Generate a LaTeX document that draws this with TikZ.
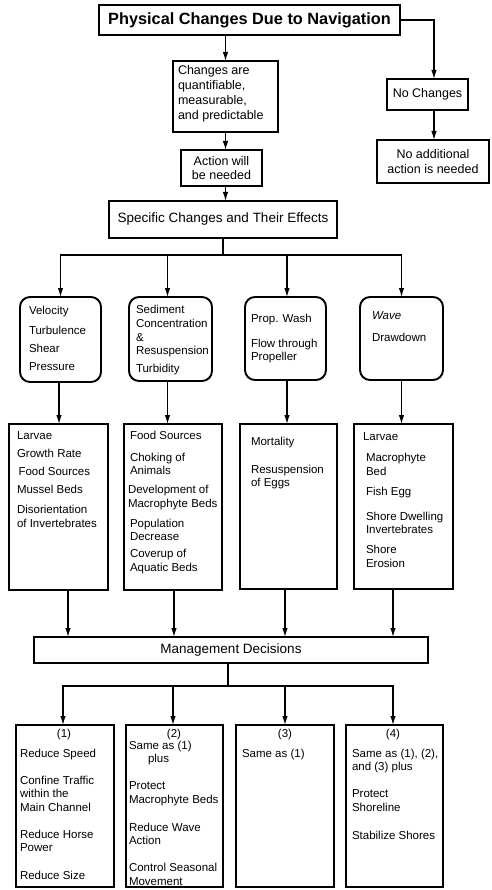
\documentclass[tikz,border=0pt]{standalone}
\usepackage{fontspec}
\setmainfont{Liberation Sans}
\usetikzlibrary{arrows.meta}
\begin{document}
\begin{tikzpicture}[x=1pt,y=-1pt,
  box/.style={draw, line width=1.6pt, inner sep=0pt, outer sep=0pt, anchor=north west},
  rbox/.style={box, rounded corners=10pt, line width=1.9pt},
  arr/.style={line width=1.2pt, -{Latex[length=9pt,width=5.5pt]}},
  ln/.style={line width=1.2pt},
  txt/.style={inner sep=0pt, outer sep=0pt, anchor=north west, align=left, font=\fontsize{11.5}{13.5}\selectfont},
  lbl/.style={inner sep=0pt, anchor=base, font=\fontsize{11.5}{13.5}\selectfont},
  mid/.style={font=\fontsize{12.5}{15}\selectfont},
  big/.style={font=\fontsize{13.5}{16}\selectfont}
]
\useasboundingbox (0,0) rectangle (491,890);

% top part
\node[box, minimum width=301pt, minimum height=30pt, font=\bfseries\fontsize{16.3}{19}\selectfont] (title) at (99,5) {Physical Changes Due to Navigation};
\node[box, minimum width=105pt, minimum height=71pt] (changes) at (173,61) {};
\node[txt, font=\fontsize{12.5}{15.3}\selectfont] (changestxt) at (178,65) {Changes are\\quantifiable,\\measurable,\\and predictable};
\node[box, mid, minimum width=81pt, minimum height=36pt, align=center, font=\fontsize{12.5}{14}\selectfont] (action) at (181,150) {Action will\\be needed};
\node[box, big, minimum width=228pt, minimum height=37pt] (specific) at (109,201) {Specific Changes and Their Effects};
\node[box, mid, minimum width=81pt, minimum height=31pt] (nochg) at (387,79) {No Changes};
\node[box, mid, minimum width=112pt, minimum height=43pt, align=center] (noadd) at (377,140) {No additional\\action is needed};

\coordinate (rx) at (434,20);
\draw[arr] (title.east) -| (rx |- nochg.north);
\draw[arr] (nochg.south -| rx) -- (rx |- noadd.north);
\draw[arr] (title.south -| changes.north) -- (changes.north);
\draw[arr] (changes.south) -- (changes.south |- action.north);
\draw[arr] (changes.south |- action.south) -- (changes.south |- specific.north);

% rounded boxes
\node[rbox, minimum width=81pt, minimum height=85pt] (r1) at (20,297) {};
\node[rbox, minimum width=83pt, minimum height=84pt] (r2) at (129,297) {};
\node[rbox, minimum width=81pt, minimum height=83pt] (r3) at (245,297) {};
\node[rbox, minimum width=83pt, minimum height=83pt] (r4) at (360,297) {};
\node[txt] (r1t) at (29,306) {Velocity\\[6.5pt]Turbulence\\[4.5pt]Shear\\[4.5pt]Pressure};
\node[txt] (r2t) at (136,305) {Sediment\\[0.5pt]Concentration\\[0.5pt]\&\\Resuspension\\[4.5pt]Turbidity};
\node[txt] (r3t) at (251,314) {Prop. Wash\\[11.5pt]Flow through\\Propeller};
\node[txt] (r4t) at (372,312) {\itshape Wave\\[8.5pt]Drawdown};

\coordinate (bus) at (224,255);
\draw[ln] (specific.south) -- (specific.south |- bus);
\draw[arr] (specific.south |- bus) -| (r1.north);
\draw[arr] (specific.south |- bus) -| ([xshift=-3pt]r2.north);
\draw[arr] (specific.south |- bus) -| ([xshift=1.5pt]r3.north);
\draw[arr] (specific.south |- bus) -| (r4.north);

% effect boxes
\node[box, minimum width=99pt, minimum height=166pt] (e1) at (9,424) {};
\node[box, minimum width=98pt, minimum height=166pt] (e2) at (124,424) {};
\node[box, minimum width=97pt, minimum height=165pt] (e3) at (240,424) {};
\node[box, minimum width=99pt, minimum height=165pt] (e4) at (354,424) {};
\node[txt] (e1t) at (17,432) {Larvae\\[4.5pt]Growth Rate\\[4.5pt]\hspace*{1.5pt}Food Sources\\[4.5pt]Mussel Beds\\[6.5pt]Disorientation\\of Invertebrates};
\node[txt] (e2t) at (130,431) {Food Sources\\[8.5pt]Choking of\\Animals\\[5.5pt]\hspace*{-2pt}Development of\\\hspace*{-2pt}Macrophyte Beds\\[6.5pt]Population\\Decrease\\[3.5pt]Coverup of\\Aquatic Beds};
\node[txt] (e3t) at (251,437) {Mortality\\[14.5pt]Resuspension\\of Eggs};
\node[txt] (e4t) at (363,433) {Larvae\\[7.5pt]\hspace*{3pt}Macrophyte\\\hspace*{3pt}Bed\\[6.5pt]\hspace*{3pt}Fish Egg\\[11.5pt]\hspace*{3pt}Shore Dwelling\\\hspace*{3pt}Invertebrates\\[6.5pt]\hspace*{3pt}Shore\\\hspace*{3pt}Erosion};

\draw[arr] ([xshift=-1.5pt]r1.south) -- ([xshift=-1.5pt]r1.south |- e1.north);
\draw[arr] ([xshift=-3pt]r2.south) -- ([xshift=-3pt]r2.south |- e2.north);
\draw[arr] ([xshift=1.5pt]r3.south) -- ([xshift=1.5pt]r3.south |- e3.north);
\draw[arr] (r4.south) -- (r4.south |- e4.north);

% management
\node[box, big, minimum width=394pt, minimum height=26pt] (mgmt) at (34,637) {Management Decisions};
\draw[arr] ([xshift=9.5pt]e1.south) -- ([xshift=9.5pt]e1.south |- mgmt.north);
\draw[arr] ([xshift=1pt]e2.south) -- ([xshift=1pt]e2.south |- mgmt.north);
\draw[arr] ([xshift=-3.5pt]e3.south) -- ([xshift=-3.5pt]e3.south |- mgmt.north);
\draw[arr] ([xshift=-10.5pt]e4.south) -- ([xshift=-10.5pt]e4.south |- mgmt.north);

% decision boxes
\node[box, minimum width=98pt, minimum height=162pt] (d1) at (16,725) {};
\node[box, minimum width=97pt, minimum height=162pt] (d2) at (126,725) {};
\node[box, minimum width=98pt, minimum height=162pt] (d3) at (236,725) {};
\node[box, minimum width=97pt, minimum height=162pt] (d4) at (346,725) {};

\coordinate (bus2) at (228,686);
\draw[ln] ([xshift=-3pt]mgmt.south) -- ([xshift=-3pt]mgmt.south |- bus2);
\draw[arr] (bus2) -| ([xshift=-2pt]d1.north);
\draw[arr] (bus2) -| ([xshift=-1.5pt]d2.north);
\draw[arr] (bus2) -| (d3.north);
\draw[arr] (bus2) -| ([xshift=-1.5pt]d4.north);

\node[lbl] (l1) at (64,737) {(1)};
\node[lbl] (l2) at (174,737) {(2)};
\node[lbl] (l3) at (285,737) {(3)};
\node[lbl] (l4) at (393,737) {(4)};

\node[txt] (d1t) at (20,749) {Reduce Speed\\[13.5pt]Confine Traffic\\within the\\Main Channel\\[13.5pt]Reduce Horse\\Power\\[14.5pt]Reduce Size};
\node[txt] (d2t) at (129,741) {Same as (1)\\\hspace*{19pt}plus\\[13.5pt]Protect\\Macrophyte Beds\\[14.5pt]Reduce Wave\\Action\\[13.5pt]Control Seasonal\\Movement};
\node[txt] (d3t) at (242,749) {Same as (1)};
\node[txt] (d4t) at (352,749) {Same as (1), (2),\\and (3) plus\\[13.5pt]Protect\\Shoreline\\[14.5pt]Stabilize Shores};
\end{tikzpicture}
\end{document}
